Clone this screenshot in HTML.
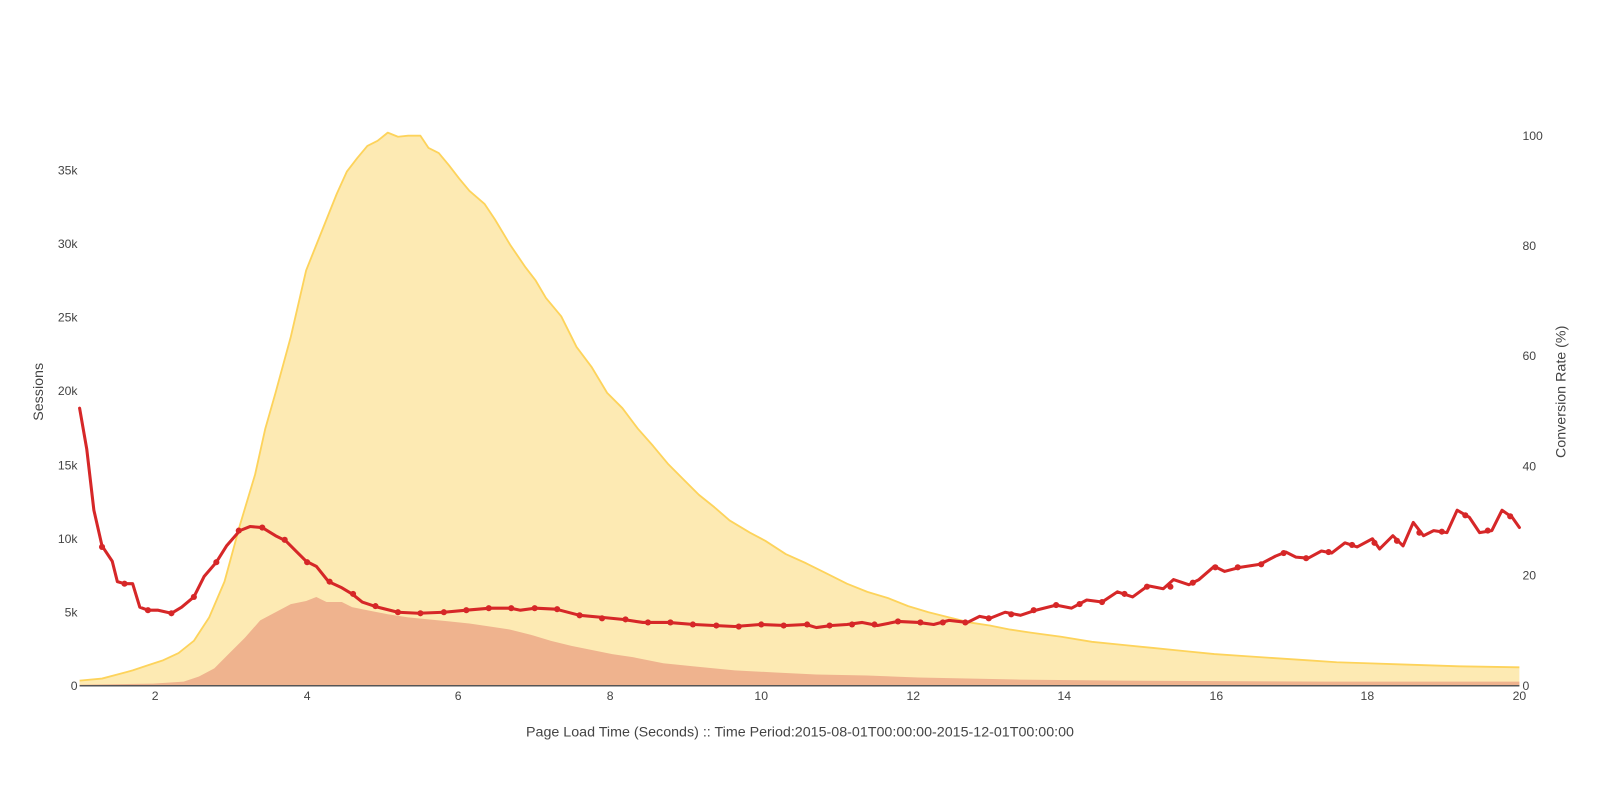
<!DOCTYPE html>
<html><head><meta charset="utf-8"><style>
html,body{margin:0;padding:0;background:#fff;overflow:hidden;}
svg{display:block;font-family:"Liberation Sans",sans-serif;}
</style></head><body>
<svg width="1600" height="800" viewBox="0 0 1568 784" preserveAspectRatio="none">
<polygon fill="#fdeab3" stroke="none" points="78,672 78,667 100,665 115,661 130,657 145,652 160,647 175,640 190,628 205,605 220,570 235,515 250,465 260,420 270,385 285,330 300,265 310,240 320,215 330,190 340,168 350,155 360,143 370,138 380,130 390,134 400,133 412,133 420,145 430,150 440,162 450,175 460,187 475,200 485,215 500,240 515,262 525,275 535,292 550,310 565,340 580,360 595,385 610,400 625,420 640,437 655,455 670,470 685,485 700,497 715,510 735,522 750,530 770,543 790,552 810,562 830,572 850,580 870,586 890,594 910,600 930,605 950,610 970,613 990,617 1010,620 1040,624 1070,629 1100,632 1130,635 1160,638 1190,641 1220,643 1250,645 1280,647 1310,649 1340,650 1370,651 1400,652 1430,653 1489,654 1489,672"/>
<polyline fill="none" stroke="#fdd35b" stroke-width="1.8" stroke-linejoin="round" points="78,667 100,665 115,661 130,657 145,652 160,647 175,640 190,628 205,605 220,570 235,515 250,465 260,420 270,385 285,330 300,265 310,240 320,215 330,190 340,168 350,155 360,143 370,138 380,130 390,134 400,133 412,133 420,145 430,150 440,162 450,175 460,187 475,200 485,215 500,240 515,262 525,275 535,292 550,310 565,340 580,360 595,385 610,400 625,420 640,437 655,455 670,470 685,485 700,497 715,510 735,522 750,530 770,543 790,552 810,562 830,572 850,580 870,586 890,594 910,600 930,605 950,610 970,613 990,617 1010,620 1040,624 1070,629 1100,632 1130,635 1160,638 1190,641 1220,643 1250,645 1280,647 1310,649 1340,650 1370,651 1400,652 1430,653 1489,654"/>
<polygon fill="#efb38e" points="78,672 78,671 150,670 180,668 195,663 210,655 225,640 240,625 255,608 270,600 285,592 300,589 310,585 320,590 335,590 345,595 360,598 380,602 400,605 420,607 440,609 460,611 480,614 500,617 520,622 540,628 560,633 580,637 600,641 620,644 650,650 680,653 720,657 760,659 800,661 850,662 900,664 1000,666 1100,667 1300,668 1489,668 1489,672"/>
<line x1="78" y1="672" x2="1489" y2="672" stroke="#555" stroke-width="1.5"/>
<polyline fill="none" stroke="#d62728" stroke-width="3" stroke-linejoin="round" stroke-linecap="round" points="78,400 85,440 92,500 100,535 110,550 115,570 122,572 130,572 137,595 145,598 155,598 168,601 178,595 190,585 200,565 212,551 222,535 235,520 245,516 257,517 270,525 280,530 290,540 300,550 310,555 322,570 335,576 345,582 355,590 370,595 390,600 410,601 435,600 457,598 480,596 500,596 510,598 525,596 545,597 568,603 590,605 610,607 630,610 655,610 680,612 700,613 720,614 745,612 770,613 790,612 800,615 815,613 830,612 845,610 860,613 880,609 900,610 915,612 930,608 948,610 960,604 970,606 985,600 1000,603 1015,598 1035,593 1050,596 1065,588 1080,590 1095,580 1110,585 1125,574 1140,577 1150,568 1165,573 1175,568 1190,555 1200,560 1215,556 1235,553 1250,545 1260,541 1270,546 1282,547 1295,540 1305,542 1318,532 1330,536 1345,528 1352,538 1365,525 1375,535 1385,512 1395,525 1405,520 1418,522 1428,500 1440,507 1450,522 1462,520 1472,500 1482,507 1489,517"/>
<g fill="#d62728">
<circle cx="100" cy="536" r="3"/><circle cx="122" cy="572" r="3"/><circle cx="145" cy="598" r="3"/><circle cx="168" cy="601" r="3"/><circle cx="190" cy="585" r="3"/><circle cx="212" cy="551" r="3"/><circle cx="234" cy="520" r="3"/><circle cx="257" cy="517" r="3"/><circle cx="279" cy="529" r="3"/><circle cx="301" cy="551" r="3"/><circle cx="323" cy="570" r="3"/><circle cx="346" cy="582" r="3"/><circle cx="368" cy="594" r="3"/><circle cx="390" cy="600" r="3"/><circle cx="412" cy="601" r="3"/><circle cx="435" cy="600" r="3"/><circle cx="457" cy="598" r="3"/><circle cx="479" cy="596" r="3"/><circle cx="501" cy="596" r="3"/><circle cx="524" cy="596" r="3"/><circle cx="546" cy="597" r="3"/><circle cx="568" cy="603" r="3"/><circle cx="590" cy="606" r="3"/><circle cx="613" cy="607" r="3"/><circle cx="635" cy="610" r="3"/><circle cx="657" cy="610" r="3"/><circle cx="679" cy="612" r="3"/><circle cx="702" cy="613" r="3"/><circle cx="724" cy="614" r="3"/><circle cx="746" cy="612" r="3"/><circle cx="768" cy="613" r="3"/><circle cx="791" cy="612" r="3"/><circle cx="813" cy="613" r="3"/><circle cx="835" cy="612" r="3"/><circle cx="857" cy="612" r="3"/><circle cx="880" cy="609" r="3"/><circle cx="902" cy="610" r="3"/><circle cx="924" cy="610" r="3"/><circle cx="946" cy="610" r="3"/><circle cx="969" cy="606" r="3"/><circle cx="991" cy="602" r="3"/><circle cx="1013" cy="598" r="3"/><circle cx="1035" cy="593" r="3"/><circle cx="1058" cy="592" r="3"/><circle cx="1080" cy="590" r="3"/><circle cx="1102" cy="582" r="3"/><circle cx="1124" cy="575" r="3"/><circle cx="1147" cy="575" r="3"/><circle cx="1169" cy="571" r="3"/><circle cx="1191" cy="556" r="3"/><circle cx="1213" cy="556" r="3"/><circle cx="1236" cy="553" r="3"/><circle cx="1258" cy="542" r="3"/><circle cx="1280" cy="547" r="3"/><circle cx="1302" cy="541" r="3"/><circle cx="1325" cy="534" r="3"/><circle cx="1347" cy="532" r="3"/><circle cx="1369" cy="530" r="3"/><circle cx="1391" cy="522" r="3"/><circle cx="1413" cy="521" r="3"/><circle cx="1436" cy="505" r="3"/><circle cx="1458" cy="520" r="3"/><circle cx="1480" cy="506" r="3"/>
</g>
<g font-size="12" fill="#444" text-anchor="end">
<text x="76" y="676">0</text><text x="76" y="604">5k</text><text x="76" y="532">10k</text><text x="76" y="460">15k</text><text x="76" y="387">20k</text><text x="76" y="315">25k</text><text x="76" y="243">30k</text><text x="76" y="171">35k</text>
</g>
<g font-size="12" fill="#444" text-anchor="start">
<text x="1492" y="676">0</text><text x="1492" y="568">20</text><text x="1492" y="461">40</text><text x="1492" y="353">60</text><text x="1492" y="245">80</text><text x="1492" y="137">100</text>
</g>
<g font-size="12" fill="#444" text-anchor="middle">
<text x="152" y="686">2</text><text x="301" y="686">4</text><text x="449" y="686">6</text><text x="598" y="686">8</text><text x="746" y="686">10</text><text x="895" y="686">12</text><text x="1043" y="686">14</text><text x="1192" y="686">16</text><text x="1340" y="686">18</text><text x="1489" y="686">20</text>
</g>
<text x="784" y="722" font-size="14" fill="#444" text-anchor="middle">Page Load Time (Seconds) :: Time Period:2015-08-01T00:00:00-2015-12-01T00:00:00</text>
<text transform="translate(42,384) rotate(-90)" font-size="14" fill="#444" text-anchor="middle">Sessions</text>
<text transform="translate(1534,384) rotate(-90)" font-size="14" fill="#444" text-anchor="middle">Conversion Rate (%)</text>
</svg>
</body></html>
